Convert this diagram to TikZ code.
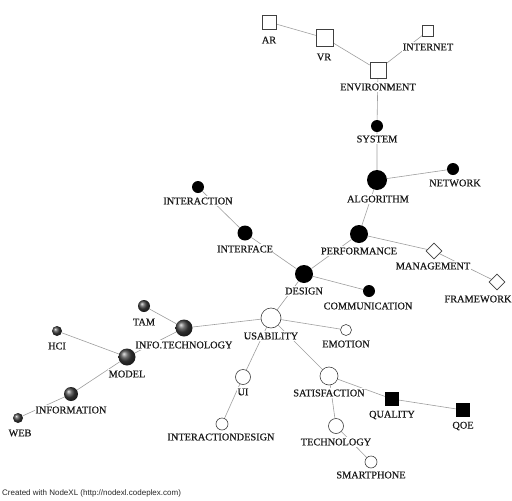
\documentclass[tikz,border=0pt]{standalone}
\usepackage{fontspec}
\setmainfont{Liberation Serif}
\newfontfamily\lblfont[FakeBold=0.5]{Liberation Serif}
\newfontfamily\footfont{Liberation Sans}
\usetikzlibrary{shapes.geometric,backgrounds}
\tikzset{
  edge/.style={draw=black!38, line width=0.6pt},
  opencirc/.style={circle, draw=black!75, fill=white, line width=0.6pt, inner sep=0pt},
  blackcirc/.style={circle, fill=black, inner sep=0pt},
  ballnode/.style={circle, shading=ball, ball color=black!75, inner sep=0pt},
  opensq/.style={rectangle, draw=black!75, fill=white, line width=0.6pt, inner sep=0pt},
  blacksq/.style={rectangle, fill=black, inner sep=0pt},
  opendia/.style={diamond, draw=black!75, fill=white, line width=0.6pt, inner sep=0pt},
  lbl/.style={font=\lblfont\fontsize{10.3}{11}\selectfont, text=black!90, fill=white, inner xsep=0.5pt, inner ysep=1.5pt}
}
\begin{document}
\begin{tikzpicture}[x=1pt,y=-1pt]
\useasboundingbox (0,0) rectangle (512,501);
% nodes
\node[opensq, minimum size=14pt] (ar) at (269,22) {};
\node[opensq, minimum size=17pt] (vr) at (325,38) {};
\node[opensq, minimum size=11pt] (internet) at (428,31) {};
\node[opensq, minimum size=16pt] (env) at (378,70) {};
\node[blackcirc, minimum size=12pt] (system) at (377,126) {};
\node[blackcirc, minimum size=20pt] (algo) at (377,180) {};
\node[blackcirc, minimum size=12pt] (network) at (453,169) {};
\node[blackcirc, minimum size=12pt] (interaction) at (198,187) {};
\node[blackcirc, minimum size=15pt] (interface) at (245,233) {};
\node[blackcirc, minimum size=18pt] (design) at (304,274) {};
\node[blackcirc, minimum size=18pt] (perf) at (359,234) {};
\node[opendia, minimum size=16pt] (mgmt) at (434,251) {};
\node[opendia, minimum size=16pt] (frame) at (497,282) {};
\node[blackcirc, minimum size=12pt] (comm) at (369,291) {};
\node[opencirc, minimum size=20pt] (usab) at (271,318) {};
\node[opencirc, minimum size=11pt] (emotion) at (346,330) {};
\node[opencirc, minimum size=15pt] (ui) at (243,377) {};
\node[opencirc, minimum size=12pt] (idesign) at (222,424) {};
\node[opencirc, minimum size=18pt] (satis) at (329,376) {};
\node[blacksq, minimum size=14pt] (quality) at (392,399) {};
\node[blacksq, minimum size=14pt] (qoe) at (463,410) {};
\node[opencirc, minimum size=15pt] (tech) at (336,426) {};
\node[opencirc, minimum size=12pt] (smart) at (371,462) {};
\node[ballnode, minimum size=12pt] (tam) at (144,306) {};
\node[ballnode, minimum size=17pt] (infotech) at (184,328) {};
\node[ballnode, minimum size=10pt] (hci) at (57,331) {};
\node[ballnode, minimum size=17pt] (model) at (127,357) {};
\node[ballnode, minimum size=14pt] (information) at (71,394) {};
\node[ballnode, minimum size=10pt] (web) at (18,418) {};
% edges
\begin{pgfonlayer}{background}
\path[edge]
  (ar) -- (vr)
  (vr) -- (env)
  (internet) -- (env)
  (env) -- (system)
  (system) -- (algo)
  (algo) -- (network)
  (algo) -- (perf)
  (perf) -- (mgmt)
  (mgmt) -- (frame)
  (perf) -- (design)
  (interaction) -- (interface)
  (interface) -- (design)
  (design) -- (comm)
  (design) -- (usab)
  (usab) -- (infotech)
  (usab) -- (emotion)
  (usab) -- (ui)
  (usab) -- (satis)
  (ui) -- (idesign)
  (satis) -- (quality)
  (quality) -- (qoe)
  (satis) -- (tech)
  (tech) -- (smart)
  (tam) -- (infotech)
  (infotech) -- (model)
  (hci) -- (model)
  (model) -- (information)
  (information) -- (web);
\end{pgfonlayer}
% labels
\node[lbl] (l-ar) at (269,40) {AR};
\node[lbl] (l-vr) at (324,57) {VR};
\node[lbl] (l-internet) at (428,47) {INTERNET};
\node[lbl] (l-env) at (378,87) {ENVIRONMENT};
\node[lbl] (l-system) at (377,139) {SYSTEM};
\node[lbl] (l-algo) at (378,199) {ALGORITHM};
\node[lbl] (l-network) at (455,183) {NETWORK};
\node[lbl] (l-interaction) at (198,201) {INTERACTION};
\node[lbl] (l-interface) at (245,249) {INTERFACE};
\node[lbl] (l-design) at (304,291) {DESIGN};
\node[lbl] (l-perf) at (359,251) {PERFORMANCE};
\node[lbl] (l-mgmt) at (433,266) {MANAGEMENT};
\node[lbl] (l-frame) at (478,299) {FRAMEWORK};
\node[lbl] (l-comm) at (368,306) {COMMUNICATION};
\node[lbl] (l-usab) at (271,336) {USABILITY};
\node[lbl] (l-emotion) at (346,344) {EMOTION};
\node[lbl] (l-ui) at (243,392) {UI};
\node[lbl] (l-idesign) at (221,437) {INTERACTIONDESIGN};
\node[lbl] (l-satis) at (329,393) {SATISFACTION};
\node[lbl] (l-quality) at (392,415) {QUALITY};
\node[lbl] (l-qoe) at (463,426) {QOE};
\node[lbl] (l-tech) at (336,442) {TECHNOLOGY};
\node[lbl] (l-smart) at (371,475) {SMARTPHONE};
\node[lbl] (l-tam) at (144,322) {TAM};
\node[lbl] (l-infotech) at (184,345) {INFO.TECHNOLOGY};
\node[lbl] (l-hci) at (57,346) {HCI};
\node[lbl] (l-model) at (127,374) {MODEL};
\node[lbl] (l-information) at (71,410) {INFORMATION};
\node[lbl] (l-web) at (20,433) {WEB};
% footer
\node[anchor=west, inner sep=0pt, font=\footfont\fontsize{8}{9}\selectfont, text=black!85] (footer) at (2,493) {Created with NodeXL (http://nodexl.codeplex.com)};
\end{tikzpicture}
\end{document}
